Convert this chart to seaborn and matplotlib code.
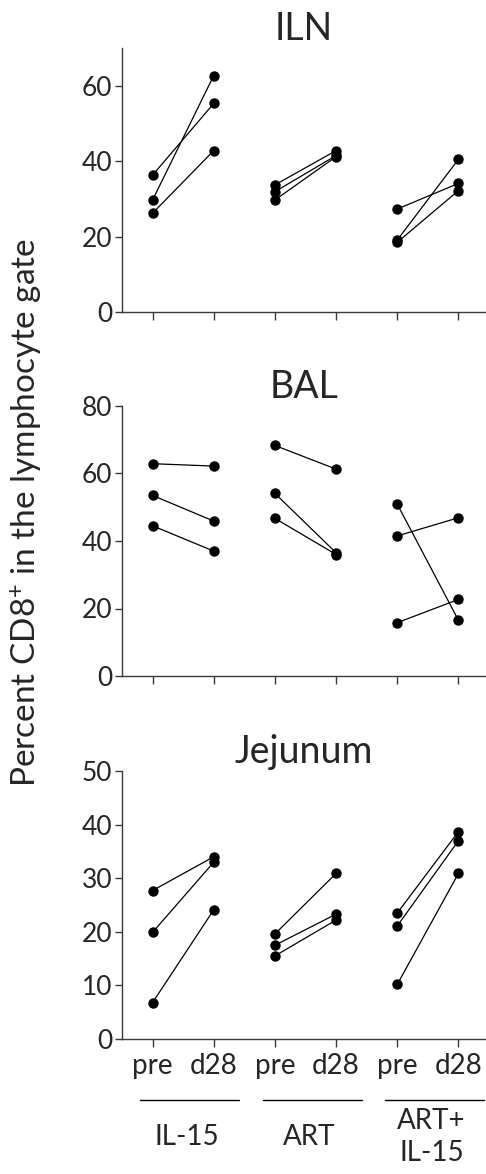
import numpy as np
import pandas as pd
import matplotlib
matplotlib.use('Agg')
import matplotlib.pyplot as plt
import matplotlib.transforms as mtransforms
import seaborn as sns

tissues = ['ILN', 'BAL', 'Jejunum']
groups = ['IL-15', 'ART', 'ART+\nIL-15']
timepoints = ['pre', 'd28']
y_max = [70, 80, 50]
y_ticks = [[0, 20, 40, 60], [0, 20, 40, 60, 80], [0, 10, 20, 30, 40, 50]]

# paired values per animal (3 animals per group), order: IL-15, ART, ART+IL-15
iln_pre = [[36.3, 29.7, 26.2], [33.7, 31.9, 29.7], [27.3, 19.1, 18.5]]
iln_d28 = [[55.3, 62.7, 42.8], [42.8, 41.5, 41.2], [34.1, 40.5, 32.2]]
bal_pre = [[62.9, 53.5, 44.5], [68.3, 54.1, 46.7], [41.5, 50.9, 15.8]]
bal_d28 = [[62.2, 45.9, 37.0], [61.3, 36.5, 36.0], [46.9, 16.5, 22.7]]
jej_pre = [[27.7, 19.9, 6.8], [19.6, 17.5, 15.5], [23.5, 21.1, 10.2]]
jej_d28 = [[34.0, 33.0, 24.1], [30.9, 23.3, 22.2], [38.7, 37.0, 30.9]]

pre_vals = [iln_pre, bal_pre, jej_pre]
d28_vals = [iln_d28, bal_d28, jej_d28]

sns.set_style('ticks')
plt.rcParams['font.family'] = ['Lato', 'DejaVu Sans']
plt.rcParams['mathtext.fontset'] = 'custom'
plt.rcParams['mathtext.rm'] = 'Lato'
plt.rcParams['mathtext.it'] = 'Lato:italic'

W, H = 486, 1174
fig = plt.figure(figsize=(W / 100, H / 100), dpi=100)

# axes boxes in pixels (top, bottom)
boxes = [(48, 312), (406, 676), (771, 1039)]
left_px = 122

axes = []
for i, tissue in enumerate(tissues):
    top, bot = boxes[i]
    ax = fig.add_axes([left_px / W, 1 - bot / H, 1 - left_px / W, (bot - top) / H])
    rows = []
    for g in range(len(groups)):
        for k in range(3):
            rows.append({'x': 2 * g, 'value': pre_vals[i][g][k], 'unit': f'{g}-{k}'})
            rows.append({'x': 2 * g + 1, 'value': d28_vals[i][g][k], 'unit': f'{g}-{k}'})
    df = pd.DataFrame(rows)
    sns.lineplot(data=df, x='x', y='value', units='unit', estimator=None,
                 color='black', lw=0.9, marker='o', markersize=7.5,
                 markeredgewidth=0, ax=ax, legend=False)
    ax.set_xlim(-0.5, 5.45)
    ax.set_ylim(0, y_max[i])
    ax.set_yticks(y_ticks[i])
    ax.set_xticks(range(6))
    ax.set_xlabel('')
    ax.set_ylabel('')
    sns.despine(ax=ax)
    for s in ['left', 'bottom']:
        ax.spines[s].set_color('#3a3a3a')
        ax.spines[s].set_linewidth(1.0)
    ax.tick_params(axis='y', direction='out', length=5, width=1.0,
                   color='#3a3a3a', labelsize=19, pad=2)
    ax.tick_params(axis='x', direction='out', length=6, width=1.0,
                   color='#3a3a3a', labelsize=20, pad=4)
    ax.set_title(tissue, fontsize=27, pad=6)
    if i < 2:
        ax.set_xticklabels([])
    else:
        ax.set_xticklabels(timepoints * 3)
    axes.append(ax)

# group bars and labels under the bottom panel
ax = axes[-1]
trans = mtransforms.blended_transform_factory(ax.transData, ax.transAxes)
for g, name in enumerate(groups):
    x0 = 2 * g - 0.2
    x1 = 2 * g + 1.42
    ax.plot([x0, x1], [-0.228, -0.228], color='black', lw=1.0,
            transform=trans, clip_on=False)
    ax.text((x0 + x1) / 2 - 0.05, -0.366, name, transform=trans, ha='center',
            va='center', fontsize=20, linespacing=1.3)

fig.text(27 / W, 1 - 513 / H, 'Percent CD8$^{+}$ in the lymphocyte gate',
         rotation=90, ha='center', va='center', fontsize=24)

fig.savefig('out.png', dpi=100)
